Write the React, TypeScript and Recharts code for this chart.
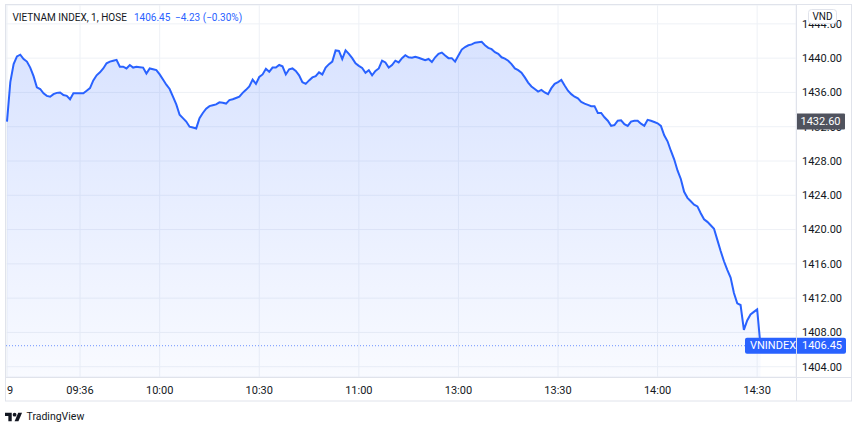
import React from 'react';
import { AreaChart, Area, XAxis, YAxis, CartesianGrid, ReferenceLine } from 'recharts';

const FONT = 'Roboto, "Liberation Sans", sans-serif';
const TEXT = '#131722';
const BLUE = '#2962ff';
const BORDER = '#e0e3eb';

// 1-minute closes; x is minutes counted from 09:00 with the lunch break squeezed out (like TradingView does)
const firstMinute = 14;
const closes = [
  1432.6, 1437.2, 1439.3, 1440.2, 1440.4, 1439.9, 1439.6, 1438.9, 1437.9, 1436.6,
  1436.4, 1435.9, 1435.6, 1435.5, 1435.8, 1435.95, 1436.0, 1435.7, 1435.6, 1435.2,
  1435.9, 1435.9, 1435.9, 1435.9, 1436.2, 1436.5, 1437.4, 1438.0, 1438.35, 1438.8,
  1439.4, 1439.6, 1439.7, 1439.8, 1439.0, 1439.0, 1438.8, 1439.2, 1438.9, 1439.0,
  1438.95, 1438.9, 1438.2, 1438.8, 1438.7, 1438.6, 1438.1, 1437.5, 1436.9, 1436.4,
  1435.5, 1434.6, 1433.4, 1433.0, 1432.6, 1432.0, 1431.9, 1431.8, 1433.0, 1433.6,
  1434.1, 1434.4, 1434.5, 1434.6, 1434.85, 1434.8, 1434.7, 1435.1, 1435.2, 1435.35,
  1435.5, 1435.95, 1436.3, 1436.7, 1437.5, 1437.0, 1437.8, 1438.1, 1438.75, 1438.4,
  1438.9, 1438.9, 1439.2, 1439.05, 1438.1, 1438.7, 1438.8, 1438.5, 1438.0, 1437.2,
  1437.0, 1437.4, 1437.75, 1437.9, 1438.35, 1438.1, 1438.9, 1439.3, 1439.6, 1440.9,
  1440.85, 1439.9, 1440.9, 1440.5, 1440.0, 1439.4, 1439.1, 1438.85, 1438.3, 1438.6,
  1438.0, 1438.5, 1438.8, 1439.7, 1439.5, 1438.9, 1439.2, 1439.7, 1439.5, 1440.0,
  1440.35, 1440.1, 1440.05, 1440.15, 1440.05, 1439.9, 1439.75, 1439.9, 1439.55, 1440.1,
  1440.5, 1440.65, 1440.3, 1440.0, 1440.0, 1439.6, 1440.3, 1441.0, 1441.3, 1441.5,
  1441.6, 1441.8, 1441.85, 1441.9, 1441.5, 1441.2, 1441.05, 1440.7, 1440.5, 1440.1,
  1439.95, 1439.7, 1439.3, 1438.8, 1438.6, 1438.3, 1437.75, 1437.15, 1436.7, 1436.4,
  1436.1, 1436.3, 1436.0, 1435.8, 1436.5, 1437.0, 1437.2, 1437.45, 1436.8, 1436.2,
  1435.8, 1435.5, 1435.3, 1434.9, 1434.7, 1434.55, 1434.4, 1434.4, 1433.6, 1433.6,
  1433.1, 1432.7, 1432.1, 1432.2, 1432.7, 1432.75, 1432.3, 1432.1, 1432.6, 1432.7,
  1432.7, 1432.35, 1432.1, 1432.8, 1432.7, 1432.55, 1432.4, 1432.1, 1431.0, 1430.3,
  1429.2, 1428.2, 1426.9, 1425.9, 1424.4, 1423.7, 1423.3, 1422.9, 1422.7, 1421.9,
  1421.2, 1420.9, 1420.5, 1420.1, 1418.8, 1417.5, 1416.3, 1415.3, 1414.4, 1412.6,
  1411.4, 1411.2, 1408.3, 1409.4, 1410.1, 1410.4, 1410.68, 1406.45,
];

const timeTickValues = [14, 36, 60, 90, 120, 150, 180, 210, 240];
const timeTickLabels = ['19', '09:36', '10:00', '10:30', '11:00', '13:00', '13:30', '14:00', '14:30'];
const priceTicks = [1404, 1408, 1412, 1416, 1420, 1424, 1428, 1432, 1436, 1440, 1444];

const symbolTitle = 'VIETNAM INDEX, 1, HOSE';
const symbolCode = 'VNINDEX';
const currency = 'VND';
const openPrice = 1432.6;
const lastPrice = 1406.45;
const change = -4.23;
const changePct = -0.3;

const data = closes.map((close, i) => ({ minute: firstMinute + i, close }));

const signed = (v: number) => (v < 0 ? '\u2212' : '+') + Math.abs(v).toFixed(2);

const TimeTick = (props: any) => {
  const { x, y, payload } = props;
  const label = timeTickLabels[timeTickValues.indexOf(payload.value)];
  return (
    <text x={x} y={y} dy="0.71em" textAnchor="middle" fontSize={11} fill={TEXT} fontFamily={FONT} clipPath="url(#plotClip)">
      {label}
    </text>
  );
};

const OpenTag = (props: any) => {
  const { viewBox } = props;
  const right = viewBox.x + viewBox.width;
  const y = viewBox.y;
  return (
    <g>
      <rect x={right} y={y - 8} width={49} height={16} rx={1} fill="#50535e" />
      <text x={right + 24.5} y={y} dominantBaseline="central" textAnchor="middle" fontSize={11} fill="#fff" fontFamily={FONT}>
        {openPrice.toFixed(2)}
      </text>
    </g>
  );
};

const LastTag = (props: any) => {
  const { viewBox } = props;
  const right = viewBox.x + viewBox.width;
  const y = viewBox.y;
  return (
    <g>
      <rect x={right - 51} y={y - 8} width={101} height={16} rx={2} fill={BLUE} />
      <text x={right - 46} y={y} dominantBaseline="central" fontSize={11} fill="#fff" fontFamily={FONT}>
        {symbolCode}
      </text>
      <text x={right + 46} y={y} dominantBaseline="central" textAnchor="end" fontSize={11} fill="#fff" fontFamily={FONT}>
        {lastPrice.toFixed(2)}
      </text>
    </g>
  );
};

export default function App() {
  return (
    <div style={{ position: 'absolute', left: 0, top: 0, width: 860, height: 432, background: '#fff' }}>
      <AreaChart width={860} height={432} data={data} margin={{ top: 5, right: 8, bottom: 31, left: 6 }}>
        <defs>
          <linearGradient id="areaFill" x1="0" y1="0" x2="0" y2="1">
            <stop offset="0%" stopColor={BLUE} stopOpacity={0.3} />
            <stop offset="100%" stopColor={BLUE} stopOpacity={0.05} />
          </linearGradient>
          <clipPath id="plotClip">
            <rect x={6} y={0} width={790} height={432} />
          </clipPath>
        </defs>
        <CartesianGrid stroke="#eef1f6" />
        <XAxis
          dataKey="minute"
          type="number"
          domain={[13.7, 251.7]}
          allowDataOverflow
          ticks={timeTickValues}
          interval={0}
          height={24}
          axisLine={false}
          tickLine={false}
          tickSize={0}
          tickMargin={9}
          tick={<TimeTick />}
        />
        <YAxis
          orientation="right"
          width={56}
          domain={[1402.8, 1446.2]}
          allowDataOverflow
          ticks={priceTicks}
          interval={0}
          tickFormatter={(v: number) => v.toFixed(2)}
          axisLine={false}
          tickLine={false}
          tickSize={0}
          tickMargin={6}
          tick={{ fontSize: 11, fill: TEXT, fontFamily: FONT }}
        />
        <Area
          type="linear"
          dataKey="close"
          stroke={BLUE}
          strokeWidth={2}
          fill="url(#areaFill)"
          dot={false}
          activeDot={false}
          isAnimationActive={false}
        />
        <ReferenceLine y={lastPrice} stroke="#6f93ff" strokeDasharray="1 2" label={<LastTag />} zIndex={2500} />
        <ReferenceLine y={openPrice} stroke="none" strokeOpacity={0} label={<OpenTag />} zIndex={2500} />
      </AreaChart>

      <svg width={860} height={432} style={{ position: 'absolute', left: 0, top: 0, pointerEvents: 'none' }}>
        <rect x={5.5} y={4.5} width={846} height={396.5} fill="none" stroke={BORDER} />
        <line x1={796.5} y1={4.5} x2={796.5} y2={401} stroke={BORDER} />
        <line x1={5} y1={377.5} x2={852} y2={377.5} stroke={BORDER} />

        <text x={12.5} y={20.5} fontSize={10} fill={TEXT} fontFamily={FONT}>{symbolTitle}</text>
        <text x={134} y={20.5} fontSize={10} fill={BLUE} fontFamily={FONT}>{lastPrice.toFixed(2)}</text>
        <text x={175} y={20.5} fontSize={10} fill={BLUE} fontFamily={FONT}>
          {signed(change)} ({signed(changePct)}%)
        </text>

        <rect x={808.5} y={9.5} width={28} height={14} rx={3} fill="#fff" stroke={BORDER} />
        <text x={822.5} y={16.5} fontSize={10} fill={TEXT} fontFamily={FONT} textAnchor="middle" dominantBaseline="central">
          {currency}
        </text>

        <g transform="translate(5 410.8) scale(0.48)" fill={TEXT}>
          <path d="M14 22H7V11H0V4h14v18z" />
          <circle cx={20} cy={8} r={4} />
          <path d="M28 22h-8l7.5-18h8L28 22z" />
        </g>
        <text x={26.5} y={419.5} fontSize={10.5} fill={TEXT} fontFamily={FONT}>TradingView</text>
      </svg>
    </div>
  );
}
